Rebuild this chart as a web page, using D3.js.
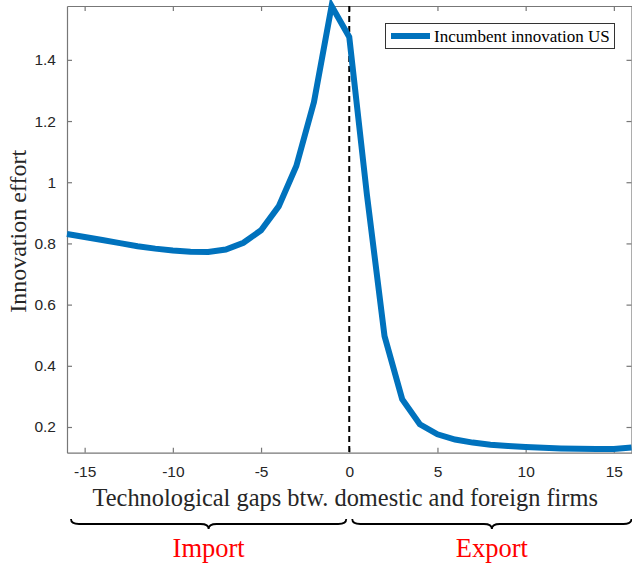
<!DOCTYPE html>
<html><head><meta charset="utf-8">
<script src="https://cdn.jsdelivr.net/npm/d3@7"></script>
<style>body{margin:0;background:#fff}svg{display:block}</style>
</head><body>
<svg id="c" width="632" height="564"></svg>
<script>
const gaps = d3.range(-16, 17);
const innovation = [0.831,0.821,0.811,0.801,0.791,0.783,0.777,0.773,0.772,0.780,0.802,0.843,0.921,1.053,1.262,1.576,
  1.475,0.960,0.497,0.291,0.209,0.176,0.159,0.149,0.142,0.138,0.135,0.132,0.130,0.129,0.128,0.128,0.133];
const xTicks = [-15,-10,-5,0,5,10,15];
const yTicks = [0.2,0.4,0.6,0.8,1.0,1.2,1.4];
const seriesName = "Incumbent innovation US";
const xLabel = "Technological gaps btw. domestic and foreign firms";
const yLabel = "Innovation effort";
const regions = [{name:"Import", from:-16, to:0}, {name:"Export", from:0, to:16}];

const svg = d3.select("#c");
const L = 67, R = 631.5, T = 6, B = 452.7;
const x = d3.scaleLinear().domain([-16,16]).range([L,R]);
const y = d3.scaleLinear().domain([0.116,1.576]).range([B,T]);
const axisCol = "#777", txtCol = "#262626";

svg.append("rect").attr("x",L).attr("y",T).attr("width",R-L).attr("height",B-T).attr("fill","#fff");

const tick = 5;
const gx = svg.append("g").attr("transform",`translate(0,${B})`)
  .call(d3.axisBottom(x).tickValues(xTicks).tickSizeInner(-tick).tickSizeOuter(0).tickPadding(13).tickFormat(d=>String(d)));
const gxt = svg.append("g").attr("transform",`translate(0,${T})`)
  .call(d3.axisTop(x).tickValues(xTicks).tickSizeInner(-tick).tickSizeOuter(0).tickFormat(""));
const gy = svg.append("g").attr("transform",`translate(${L},0)`)
  .call(d3.axisLeft(y).tickValues(yTicks).tickSizeInner(-tick).tickSizeOuter(0).tickPadding(11).tickFormat(d=>d===1?"1":d.toFixed(1)));
const gyr = svg.append("g").attr("transform",`translate(${R},0)`)
  .call(d3.axisRight(y).tickValues(yTicks).tickSizeInner(-tick).tickSizeOuter(0).tickFormat(""));
[gx,gxt,gy,gyr].forEach(g=>{
  g.selectAll("path.domain").attr("stroke",axisCol).attr("stroke-width",1.2);
  g.selectAll(".tick line").attr("stroke",axisCol).attr("stroke-width",1.2);
  g.selectAll("text").attr("fill",txtCol).style("font-family","'Liberation Sans', Arial, sans-serif").style("font-size","15.5px");
});

svg.append("line").attr("x1",x(0)).attr("x2",x(0)).attr("y1",T).attr("y2",B)
  .attr("stroke","#000").attr("stroke-width",2).attr("stroke-dasharray","6,4");

const line = d3.line().x((d,i)=>x(gaps[i])).y(d=>y(d));
svg.append("path").datum(innovation).attr("d",line).attr("fill","none")
  .attr("stroke","#0072BD").attr("stroke-width",6).attr("stroke-linejoin","miter");

const lg = svg.append("g");
lg.append("rect").attr("x",385.5).attr("y",23.5).attr("width",229).attr("height",25).attr("fill","#fff").attr("stroke","#333").attr("stroke-width",1);
lg.append("line").attr("x1",391).attr("x2",430).attr("y1",36).attr("y2",36).attr("stroke","#0072BD").attr("stroke-width",6);
lg.append("text").attr("x",434).attr("y",42).text(seriesName).attr("fill","#000")
  .style("font-family","'Liberation Serif', 'Times New Roman', serif").style("font-size","17px");

svg.append("text").attr("x",(L+R)/2 - 4).attr("y",506).attr("text-anchor","middle").text(xLabel)
  .attr("fill",txtCol).style("font-family","'Liberation Serif', serif").style("font-size","24.4px");
svg.append("text").attr("transform",`translate(26,${(T+B)/2+2}) rotate(-90)`).attr("text-anchor","middle").text(yLabel)
  .attr("fill",txtCol).style("font-family","'Liberation Serif', serif").style("font-size","24px");

function brace(x1,x2,yy,h){
  const m=(x1+x2)/2, r=4;
  return `M${x1},${yy-h} Q${x1},${yy} ${x1+r*2},${yy} L${m-r*2},${yy} Q${m},${yy} ${m},${yy+h} Q${m},${yy} ${m+r*2},${yy} L${x2-r*2},${yy} Q${x2},${yy} ${x2},${yy-h}`;
}
regions.forEach((r,i)=>{
  const x1 = i===0 ? x(r.from)+4 : x(r.from)+3;
  const x2 = i===0 ? x(r.to)-3 : x(r.to);
  svg.append("path").attr("d",brace(x1,x2,524,5)).attr("fill","none").attr("stroke","#000").attr("stroke-width",1.8);
  svg.append("text").attr("x",(x1+x2)/2).attr("y",557).attr("text-anchor","middle").text(r.name)
    .attr("fill","#f00").style("font-family","'Liberation Serif', serif").style("font-size","26.5px");
});
</script>
</body></html>
